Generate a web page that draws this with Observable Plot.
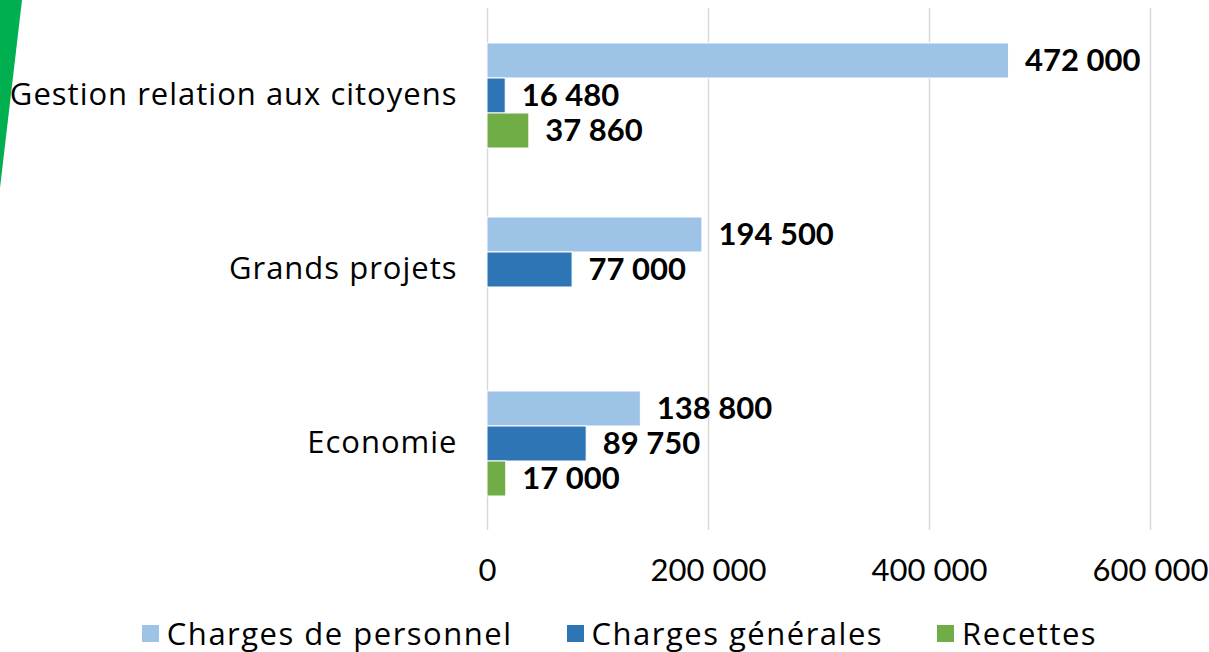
<!DOCTYPE html>
<html>
<head>
<meta charset="utf-8">
<script src="https://cdn.jsdelivr.net/npm/d3@7"></script>
<script src="https://cdn.jsdelivr.net/npm/@observablehq/plot@0.6"></script>
<style>
  html, body { margin: 0; padding: 0; background: #fff; }
  body { width: 1209px; height: 652px; position: relative; overflow: hidden; font-family: "Open Sans", Lato, sans-serif; }
  #stripe { position: absolute; left: 0; top: 0; width: 22px; height: 188px; background: #00B050; clip-path: polygon(0 0, 100% 0, 0 100%); z-index: 2; }
  #legend { position: absolute; left: 15px; top: 612px; width: 1209px; height: 42px; display: flex; justify-content: center; align-items: center; font-size: 31px; letter-spacing: 1.5px; color: #000; }
  .item { display: flex; align-items: center; margin: 0 27px; }
  .sw { width: 17px; height: 17px; margin-right: 8px; }
  .fyax text { font-family: "Open Sans", sans-serif; letter-spacing: 1px; }
</style>
</head>
<body>
<div id="stripe"></div>
<div id="chart"></div>
<div id="legend"></div>
<script>
const categories = ["Gestion relation aux citoyens", "Grands projets", "Economie"];
const series = ["Charges de personnel", "Charges générales", "Recettes"];
const colors = ["#9DC3E6", "#2E75B6", "#70AD47"];
const personnel = [472000, 194500, 138800];
const generales = [16480, 77000, 89750];
const recettes = [37860, null, 17000];
const xTicks = [0, 200000, 400000, 600000];

const values = [personnel, generales, recettes];
const data = [];
categories.forEach((c, i) => {
  series.forEach((s, j) => {
    const v = values[j][i];
    if (v != null) data.push({category: c, series: s, value: v});
  });
});

const fmt = d3.formatLocale({thousands: "\u00a0", grouping: [3], decimal: ","}).format(",d");

const chart = Plot.plot({
  width: 1209,
  height: 612,
  marginLeft: 487,
  marginRight: 59,
  marginTop: 8,
  marginBottom: 82,
  style: {fontFamily: "Lato, 'Open Sans', sans-serif", color: "#000", background: "#fff"},
  x: {domain: [0, 600000], ticks: xTicks, tickFormat: fmt},
  y: {domain: series, padding: 0, insetTop: 34, insetBottom: 33, axis: null},
  fy: {domain: categories, padding: 0, label: null},
  color: {domain: series, range: colors},
  marks: [
    Plot.ruleX(xTicks, {stroke: "#D9D9D9", strokeWidth: 1.5}),
    Plot.barX(data, {x: "value", y: "series", fy: "category", fill: "series", stroke: "#fff", strokeWidth: 1}),
    Plot.text(data, {x: "value", y: "series", fy: "category", text: d => fmt(d.value), textAnchor: "start", dx: 16, fontWeight: "bold", fontSize: 31, fill: "#000"}),
    Plot.axisX({ticks: xTicks, tickFormat: fmt, tickSize: 0, tickPadding: 28, fontSize: 31, anchor: "bottom", label: null}),
    Plot.axisFy({anchor: "left", tickSize: 0, tickPadding: 30, fontSize: 31, label: null, className: "fyax"})
  ]
});
document.getElementById("chart").appendChild(chart);

const legend = document.getElementById("legend");
series.forEach((s, i) => {
  const it = document.createElement("div");
  it.className = "item";
  const sw = document.createElement("div");
  sw.className = "sw";
  sw.style.background = colors[i];
  const t = document.createElement("span");
  t.textContent = s;
  it.appendChild(sw); it.appendChild(t);
  legend.appendChild(it);
});
</script>
</body>
</html>
